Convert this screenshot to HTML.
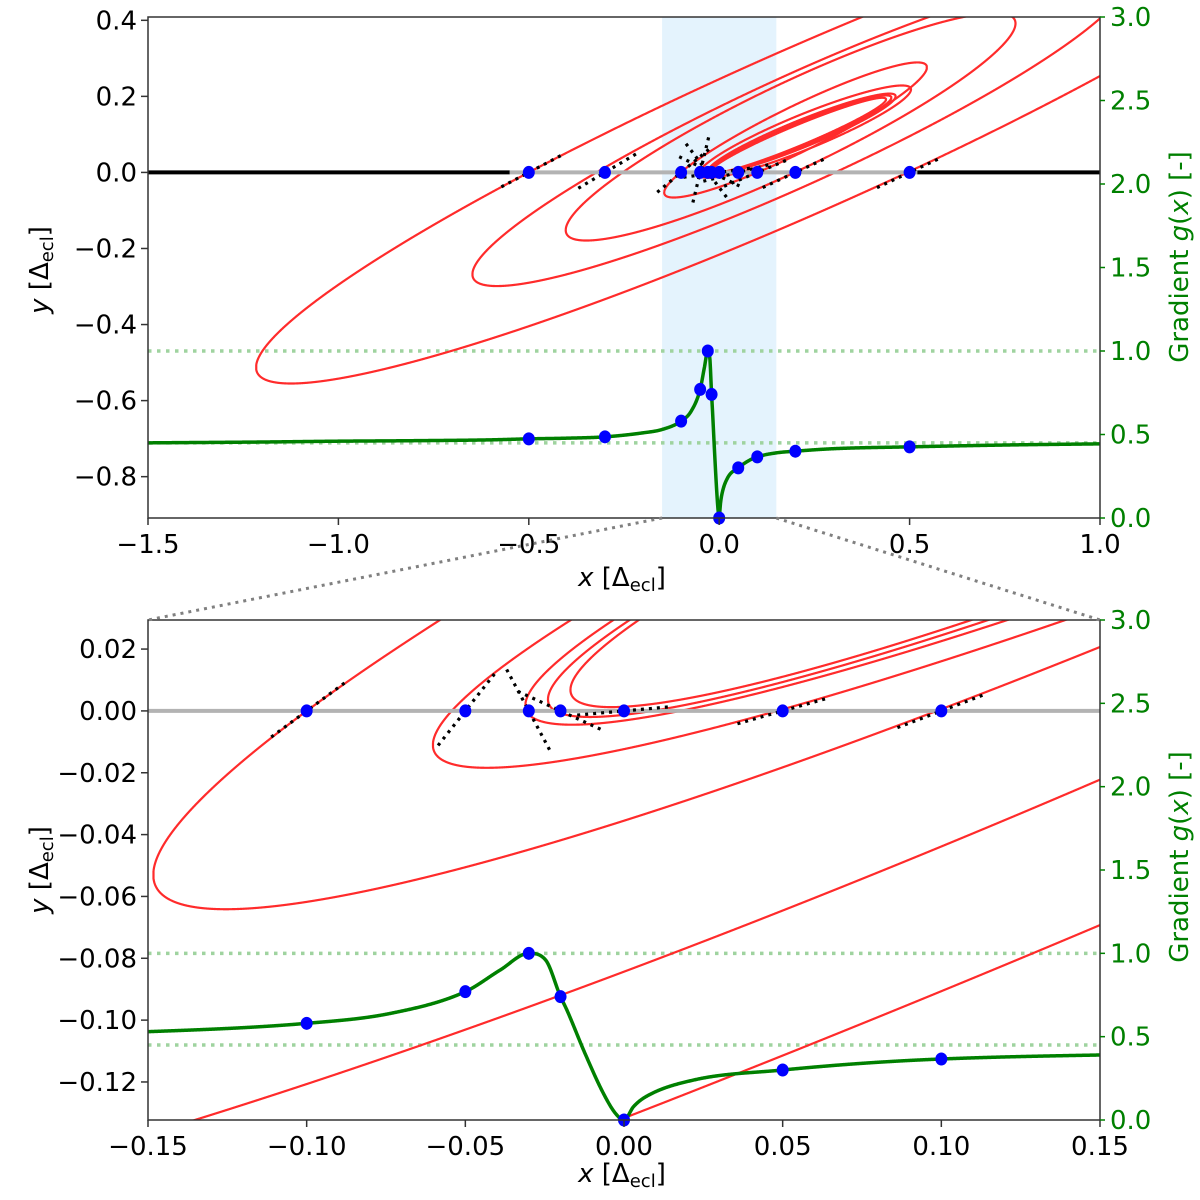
<!DOCTYPE html>
<html><head><meta charset="utf-8"><title>Contours and gradient</title>
<style>
html,body{margin:0;padding:0;background:#fff;overflow:hidden;}
svg{display:block;overflow:hidden;font-family:"DejaVu Sans","Liberation Sans",sans-serif;}
</style></head>
<body>
<svg id="chart" width="1200" height="1200" viewBox="0 0 1200 1200" xmlns="http://www.w3.org/2000/svg">
<defs>
<clipPath id="clipTop"><rect x="148" y="17" width="952" height="501"/></clipPath>
<clipPath id="clipBot"><rect x="148" y="620" width="952" height="500"/></clipPath>
</defs>
<g id="layer"></g>
</svg>
<script>
// ---------- data ----------
const gradX = [-1.5,-1.2,-1.0,-0.8,-0.6,-0.5,-0.4,-0.3,-0.2,-0.15,-0.1,-0.0735,-0.05,-0.039,-0.03,-0.0247,-0.02,-0.018,-0.0123,-0.0065,-0.0027,0,0.003,0.0069,0.022,0.05,0.075,0.1,0.15,0.2,0.3,0.5,0.75,1.0];
const gradY = [0.45,0.455,0.46,0.463,0.468,0.474,0.478,0.486,0.51,0.53,0.58,0.64,0.77,0.90,1.0,0.96,0.74,0.66,0.40,0.16,0.04,0,0.08,0.14,0.24,0.30,0.34,0.366,0.39,0.40,0.415,0.426,0.437,0.444];
const dotX = [-0.5,-0.3,-0.1,-0.05,-0.03,-0.02,0,0.05,0.1,0.2,0.5];
const dotContour = ['e1','e2','c1','c2','c3','c4','c5','c2','c1','e3','e1'];
const gradRefLines = [1.0,0.45];
const e1X = [-1.221,-1.124,-0.974,-0.814,-0.16,-0.5,0.213,0.37,0.5,1.0];
const e1Y = [-0.514,-0.558,-0.279,-0.50,-0.279,0,0.342,0.405,0,0.257];
const e2X = [-0.67,-0.638,-0.3,0.213,0.615,-0.278,0.0011,0.15,0.318,1.0];
const e2Y = [-0.284,-0.30,0,0.29,0.405,-0.227,-0.1318,-0.0674,0,0.397];
const e3X = [-0.40,-0.383,-0.1347,-0.02,0.15,0.2,0.79,0.738,0.30,0.213];
const e3Y = [-0.156,-0.179,-0.1318,-0.092,-0.0222,0,0.368,0.378,0.301,0.251];
const c1X = [-0.0563,-0.1,-0.15,-0.15,-0.131,-0.016,0.1,0.15,0.30,0.549,0.50];
const c1Y = [0.0294,0,-0.0459,-0.0614,-0.066,-0.0394,0,0.0192,0.227,0.256,0.264];
const c2X = [-0.0563,-0.05,-0.018,-0.039,0.05,0.131,0.30,0.30,0.449,0.423];
const c2Y = [-0.0158,0,0.0294,-0.020,0,0.0294,0.188,0.085,0.216,0.222];
const c3X = [-0.029,-0.0285,-0.0285,-0.02,-0.0255,-0.0046,-0.016,0.0413,0.1216,0.30,0.30,0.423];
const c3Y = [0,0.003,-0.003,0.0154,-0.0045,0.0294,-0.0061,0.0063,0.0294,0.172,0.098,0.203];
const c4X = [-0.0237,-0.02,-0.0123,-0.0123,0.0001,0.0413,0.116,0.30,0.30,0.415];
const c4Y = [0.0036,0,-0.0036,0.0165,0.0294,0.0077,0.0294,0.166,0.104,0.200];
const c5X = [-0.0142,-0.008,-0.0084,0,0.003,0.0413,0.111,0.30,0.30,0.41];
const c5Y = [0.0063,0.0015,0.0176,0,0.0294,0.0095,0.0294,0.16,0.11,0.197];
const topXTicks = [-1.5,-1.0,-0.5,0.0,0.5,1.0];
const topYTicks = [0.4,0.2,0.0,-0.2,-0.4,-0.6,-0.8];
const botXTicks = [-0.15,-0.10,-0.05,0.00,0.05,0.10,0.15];
const botYTicks = [0.02,0.00,-0.02,-0.04,-0.06,-0.08,-0.10,-0.12];
const gradTicks = [0.0,0.5,1.0,1.5,2.0,2.5,3.0];
const zoomBand = [-0.15,0.15];

// ---------- axes ----------
const NS = 'http://www.w3.org/2000/svg';
const layer = document.getElementById('layer');
const T = {x0:148,x1:1100,y0:17,y1:518,xmin:-1.5,xmax:1.0,ymin:-0.9087,ymax:0.4087,clip:'clipTop',dp:1};
const B = {x0:148,x1:1100,y0:620,y1:1120,xmin:-0.15,xmax:0.15,ymin:-0.1323,ymax:0.0294,clip:'clipBot',dp:2};
function X(P,x){return P.x0+(x-P.xmin)/(P.xmax-P.xmin)*(P.x1-P.x0);}
function Y(P,y){return P.y1-(y-P.ymin)/(P.ymax-P.ymin)*(P.y1-P.y0);}
function IX(P,px){return P.xmin+(px-P.x0)/(P.x1-P.x0)*(P.xmax-P.xmin);}
function G(P,g){return P.y1-g/3*(P.y1-P.y0);}
function mk(tag,attrs,parent){const e=document.createElementNS(NS,tag);for(const k in attrs)e.setAttribute(k,attrs[k]);(parent||layer).appendChild(e);return e;}
function fmt(v,d){const s=Math.abs(v).toFixed(d);return (v<-1e-9?'\u2212':'')+s;}

function monotone(xs,ys){
  const n=xs.length,d=[],m=new Array(n);
  for(let i=0;i<n-1;i++)d.push((ys[i+1]-ys[i])/(xs[i+1]-xs[i]));
  m[0]=d[0];m[n-1]=d[n-2];
  for(let i=1;i<n-1;i++){m[i]=(d[i-1]*d[i]<=0)?0:(d[i-1]+d[i])/2;}
  for(let i=0;i<n-1;i++){if(d[i]===0){m[i]=0;m[i+1]=0;continue;}const a=m[i]/d[i],b=m[i+1]/d[i],h=a*a+b*b;if(h>9){const t=3/Math.sqrt(h);m[i]=t*a*d[i];m[i+1]=t*b*d[i];}}
  return function(x){let i=0;while(i<n-2&&x>xs[i+1])i++;const h=xs[i+1]-xs[i],t=(x-xs[i])/h,t2=t*t,t3=t2*t;
    return (2*t3-3*t2+1)*ys[i]+(t3-2*t2+t)*h*m[i]+(-2*t3+3*t2)*ys[i+1]+(t3-t2)*h*m[i+1];};
}
const gradF = monotone(gradX,gradY);

function solve(A,b){const n=b.length;const M=A.map((r,i)=>r.concat([b[i]]));
  for(let c=0;c<n;c++){let p=c;for(let r=c+1;r<n;r++)if(Math.abs(M[r][c])>Math.abs(M[p][c]))p=r;[M[c],M[p]]=[M[p],M[c]];
    for(let r=c+1;r<n;r++){const f=M[r][c]/M[c][c];for(let k=c;k<=n;k++)M[r][k]-=f*M[c][k];}}
  const x=new Array(n);for(let r=n-1;r>=0;r--){let s=M[r][n];for(let k=r+1;k<n;k++)s-=M[r][k]*x[k];x[r]=s/M[r][r];}return x;}
function fitConic(P,xs,ys){
  const cx=(P.x0+P.x1)/2,cy=(P.y0+P.y1)/2,s=500;
  const N=[...Array(6)].map(()=>new Array(6).fill(0));
  for(let i=0;i<xs.length;i++){const u=(X(P,xs[i])-cx)/s,v=(Y(P,ys[i])-cy)/s;const w=1/(1+u*u+v*v);
    const r=[u*u,u*v,v*v,u,v,1].map(q=>q*w);for(let a=0;a<6;a++)for(let b=0;b<6;b++)N[a][b]+=r[a]*r[b];}
  let tr=0;for(let a=0;a<6;a++)tr+=N[a][a];for(let a=0;a<6;a++)N[a][a]+=1e-11*tr;
  let x=[1,0.5,1,0.3,0.2,1];
  for(let it=0;it<60;it++){const y=solve(N,x);const nrm=Math.hypot(...y);x=y.map(q=>q/nrm);}
  return {c:x,cx:cx,cy:cy,s:s};
}
function drawConic(P,F,name,parent){
  const [A,Bc,C,D,E,Fc]=F.c;let d='';let r1=[],r2=[];const startPx=P.x0-20;const endPx=P.x1+20;let runStart=null;
  const yLo=P.y0-20,yHi=P.y1+20;
  function cl(y){return Math.max(yLo,Math.min(yHi,y));}
  function pt(p){return p[0].toFixed(2)+','+cl(p[1]).toFixed(2);}
  function flush(){if(r1.length>1){d+='M'+r1.map(pt).join('L');d+='L'+r2.slice().reverse().map(pt).join('L');
      if(runStart>startPx+0.1)d+='L'+pt(r1[0]);}r1=[];r2=[];runStart=null;}
  for(let px=startPx;px<=endPx;px+=0.25){const u=(px-F.cx)/F.s;const a=C,b=Bc*u+E,c=A*u*u+D*u+Fc;const disc=b*b-4*a*c;
    if(disc<0||Math.abs(a)<1e-14){flush();continue;}const sq=Math.sqrt(disc);
    if(runStart===null)runStart=px;
    const v1=(-b-sq)/(2*a),v2=(-b+sq)/(2*a);r1.push([px,F.cy+v1*F.s]);r2.push([px,F.cy+v2*F.s]);}
  flush();
  const p=mk('path',{d:d,fill:'none',stroke:'#ff2b2b','stroke-width':2.2,'stroke-linejoin':'round'},parent);
  
  
}
const contours = {e1:[e1X,e1Y],e2:[e2X,e2Y],e3:[e3X,e3Y],c1:[c1X,c1Y],c2:[c2X,c2Y],c3:[c3X,c3Y],c4:[c4X,c4Y],c5:[c5X,c5Y]};

function panel(P,tag){
  const g=mk('g',{});
  
  
  const inner=mk('g',{'clip-path':'url(#'+P.clip+')'},g);
  if(P===T){const band=mk('rect',{x:X(P,zoomBand[0]),y:P.y0,width:X(P,zoomBand[1])-X(P,zoomBand[0]),height:P.y1-P.y0,fill:'#e4f3fd'},inner);
    }
  gradRefLines.forEach(v=>{const l=mk('line',{x1:P.x0,x2:P.x1,y1:G(P,v),y2:G(P,v),stroke:'#9fd39f','stroke-width':3.5,'stroke-dasharray':'3.5 5.5'},inner);
    });
  const fits={};
  for(const k in contours){fits[k]=fitConic(P,contours[k][0],contours[k][1]);drawConic(P,fits[k],'contour-'+k,inner);}
  const y0=Y(P,0);
  if(P===T){
    const bl1=mk('line',{x1:P.x0,x2:X(P,-0.55),y1:y0,y2:y0,stroke:'#000','stroke-width':4},inner);
    
    const bl2=mk('line',{x1:X(P,0.52),x2:P.x1,y1:y0,y2:y0,stroke:'#000','stroke-width':4},inner);
    
    const gl=mk('line',{x1:X(P,-0.55),x2:X(P,0.52),y1:y0,y2:y0,stroke:'#b3b3b3','stroke-width':4},inner);
    
  } else {
    const gl=mk('line',{x1:P.x0,x2:P.x1,y1:y0,y2:y0,stroke:'#b3b3b3','stroke-width':4},inner);
    
  }
  const L=(P===T)?36:47;
  dotX.forEach((x,i)=>{const F=fits[dotContour[i]];const [A,Bc,C,D,E]=F.c;const px=X(P,x),py=y0;
    const u=(px-F.cx)/F.s,v=(py-F.cy)/F.s;const fu=2*A*u+Bc*v+D,fv=Bc*u+2*C*v+E;let tx=fv,ty=-fu;const n=Math.hypot(tx,ty)||1;tx/=n;ty/=n;
    const t=mk('line',{x1:px-L*tx,y1:py-L*ty,x2:px+L*tx,y2:py+L*ty,stroke:'#000','stroke-width':3.2,'stroke-dasharray':'3 5'},inner);
    });
  let gd='';for(let px=P.x0;px<=P.x1;px+=0.5){const x=IX(P,px);gd+=(gd?'L':'M')+px.toFixed(2)+','+G(P,gradF(x)).toFixed(2);}
  const gp=mk('path',{d:gd,fill:'none',stroke:'#008000','stroke-width':3.5,'stroke-linejoin':'round'},inner);
  
  dotX.forEach(x=>{if(x<P.xmin-1e-9||x>P.xmax+1e-9)return;
    const d1=mk('ellipse',{cx:X(P,x),cy:y0,rx:6,ry:6.5,fill:'#0000ff'},g);
    const d2=mk('ellipse',{cx:X(P,x),cy:G(P,gradF(x)),rx:6,ry:6.5,fill:'#0000ff'},g);});
  const fr=mk('rect',{x:P.x0,y:P.y0,width:P.x1-P.x0,height:P.y1-P.y0,fill:'none',stroke:'#333','stroke-width':1.5},g);
  
  const xt=(P===T)?topXTicks:botXTicks,yt=(P===T)?topYTicks:botYTicks;
  xt.forEach(v=>{const px=X(P,v);mk('line',{x1:px,x2:px,y1:P.y1,y2:P.y1+7,stroke:'#333','stroke-width':1.5},g);
    const t=mk('text',{x:px,y:P.y1+35,'text-anchor':'middle','font-size':26,fill:'#000'},g);t.textContent=fmt(v,P.dp);
    });
  yt.forEach(v=>{const py=Y(P,v);mk('line',{x1:P.x0-7,x2:P.x0,y1:py,y2:py,stroke:'#333','stroke-width':1.5},g);
    const t=mk('text',{x:P.x0-11,y:py+9,'text-anchor':'end','font-size':26,fill:'#000'},g);t.textContent=fmt(v,P.dp);
    });
  gradTicks.forEach(v=>{const py=G(P,v);mk('line',{x1:P.x1,x2:P.x1+5,y1:py,y2:py,stroke:'#008000','stroke-width':1.5},g);
    const t=mk('text',{x:P.x1+10,y:py+9,'font-size':26,fill:'#008000'},g);t.textContent=v.toFixed(1);
    });
  const xl=mk('text',{x:(P.x0+P.x1)/2-2,y:P.y1+(P===T?68:62),'text-anchor':'middle','font-size':26,fill:'#000'},g);
  xl.innerHTML='<tspan font-style="italic">x</tspan> [Δ<tspan font-size="18" dy="5">ecl</tspan><tspan dy="-5">]</tspan>';
  
  const cyM=(P===T)?270:870;
  const yl=mk('text',{x:0,y:0,'text-anchor':'middle','font-size':26,fill:'#000',transform:'translate(48,'+cyM+') rotate(-90)'},g);
  yl.innerHTML='<tspan font-style="italic">y</tspan> [Δ<tspan font-size="18" dy="5">ecl</tspan><tspan dy="-5">]</tspan>';
  
  const rl=mk('text',{x:0,y:0,'text-anchor':'middle','font-size':26,fill:'#008000',transform:'translate(1188,'+(P===T?257:857)+') rotate(-90)'},g);
  rl.innerHTML='Gradient <tspan font-style="italic">g</tspan>(<tspan font-style="italic">x</tspan>) [-]';
  
}
panel(T,'overview');
panel(B,'zoom');
[[zoomBand[0],B.x0],[zoomBand[1],B.x1]].forEach(p=>{
  const l=mk('line',{x1:X(T,p[0]),y1:T.y1,x2:p[1],y2:B.y0,stroke:'#808080','stroke-width':3,'stroke-dasharray':'3 5'});
  
  
});
</script>
</body></html>
